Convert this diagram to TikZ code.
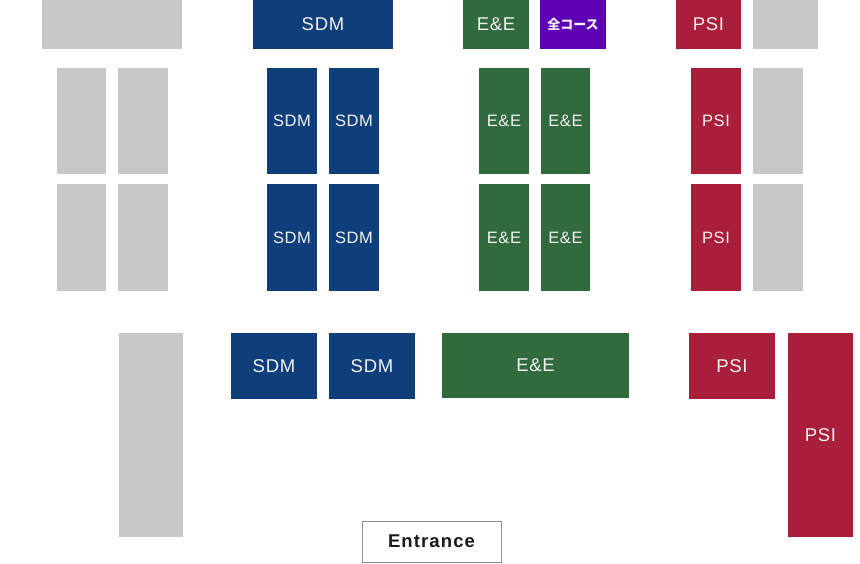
\documentclass[tikz,border=0pt]{standalone}
\usepackage{fontspec}
\newfontfamily\lab[LetterSpace=4]{Liberation Sans}
\newfontfamily\entf[LetterSpace=6]{Liberation Sans}
\newfontfamily\cjk{Noto Sans CJK JP}
\definecolor{sdmc}{HTML}{0F3F7A}
\definecolor{eec}{HTML}{316B3D}
\definecolor{psic}{HTML}{A91E3A}
\definecolor{allc}{HTML}{5E00B3}
\definecolor{grayc}{HTML}{C8C8C8}
\definecolor{txtc}{HTML}{F2F2F2}
\newcommand{\bx}[8]{%
  \node[booth,#6,minimum width={#4pt-#2pt},minimum height={#5pt-#3pt}]
    (#1) at ({(#2+#4)/2},{(#3+#5)/2}) {\fontsize{#8}{#8}\selectfont #7};}
\begin{document}
\begin{tikzpicture}[x=1pt,y=-1pt,
  booth/.style={rectangle,inner sep=0pt,outer sep=0pt,text=txtc,font=\lab},
  sdm/.style={fill=sdmc},
  ee/.style={fill=eec},
  psi/.style={fill=psic},
  allc/.style={fill=allc,font=\cjk\bfseries},
  grayb/.style={fill=grayc},
  lower/.style={text depth=-10pt},
  entr/.style={draw=gray!90,line width=1pt,fill=white,text=black!90,font=\entf\bfseries}]
\useasboundingbox (0,0) rectangle (860,563);
% top row
\bx{g1}{42}{0}{182}{49}{grayb}{}{18}
\bx{s1}{253}{0}{393}{49}{sdm}{SDM}{18.5}
\bx{e1}{463}{0}{529}{49}{ee}{E\&E}{18.5}
\bx{a1}{540}{0}{606}{49}{allc}{全コース}{13}
\bx{p1}{676}{0}{741}{49}{psi}{PSI}{18.5}
\bx{g2}{753}{0}{818}{49}{grayb}{}{18}
% row 2
\bx{g3}{57}{68}{106}{174}{grayb}{}{17}
\bx{g4}{118}{68}{168}{174}{grayb}{}{17}
\bx{s2}{267}{68}{317}{174}{sdm}{SDM}{16.5}
\bx{s3}{329}{68}{379}{174}{sdm}{SDM}{16.5}
\bx{e2}{479}{68}{529}{174}{ee}{E\&E}{16.5}
\bx{e3}{541}{68}{590}{174}{ee}{E\&E}{16.5}
\bx{p2}{691}{68}{741}{174}{psi}{PSI}{16.5}
\bx{g5}{753}{68}{803}{174}{grayb}{}{17}
% row 3
\bx{g6}{57}{184}{106}{291}{grayb}{}{17}
\bx{g7}{118}{184}{168}{291}{grayb}{}{17}
\bx{s4}{267}{184}{317}{291}{sdm}{SDM}{16.5}
\bx{s5}{329}{184}{379}{291}{sdm}{SDM}{16.5}
\bx{e4}{479}{184}{529}{291}{ee}{E\&E}{16.5}
\bx{e5}{541}{184}{590}{291}{ee}{E\&E}{16.5}
\bx{p3}{691}{184}{741}{291}{psi}{PSI}{16.5}
\bx{g8}{753}{184}{803}{291}{grayb}{}{17}
% row 4
\bx{g9}{119}{333}{183}{537}{grayb}{}{17}
\bx{s6}{231}{333}{317}{399}{sdm}{SDM}{18.5}
\bx{s7}{329}{333}{415}{399}{sdm}{SDM}{18.5}
\bx{e6}{442}{333}{629}{398}{ee}{E\&E}{18.5}
\bx{p4}{689}{333}{775}{399}{psi}{PSI}{18.5}
\bx{p5}{788}{333}{853}{537}{psi,lower}{PSI}{18.5}
% entrance
\bx{ent}{362}{521}{501}{562}{entr}{Entrance}{18.5}
\end{tikzpicture}
\end{document}
